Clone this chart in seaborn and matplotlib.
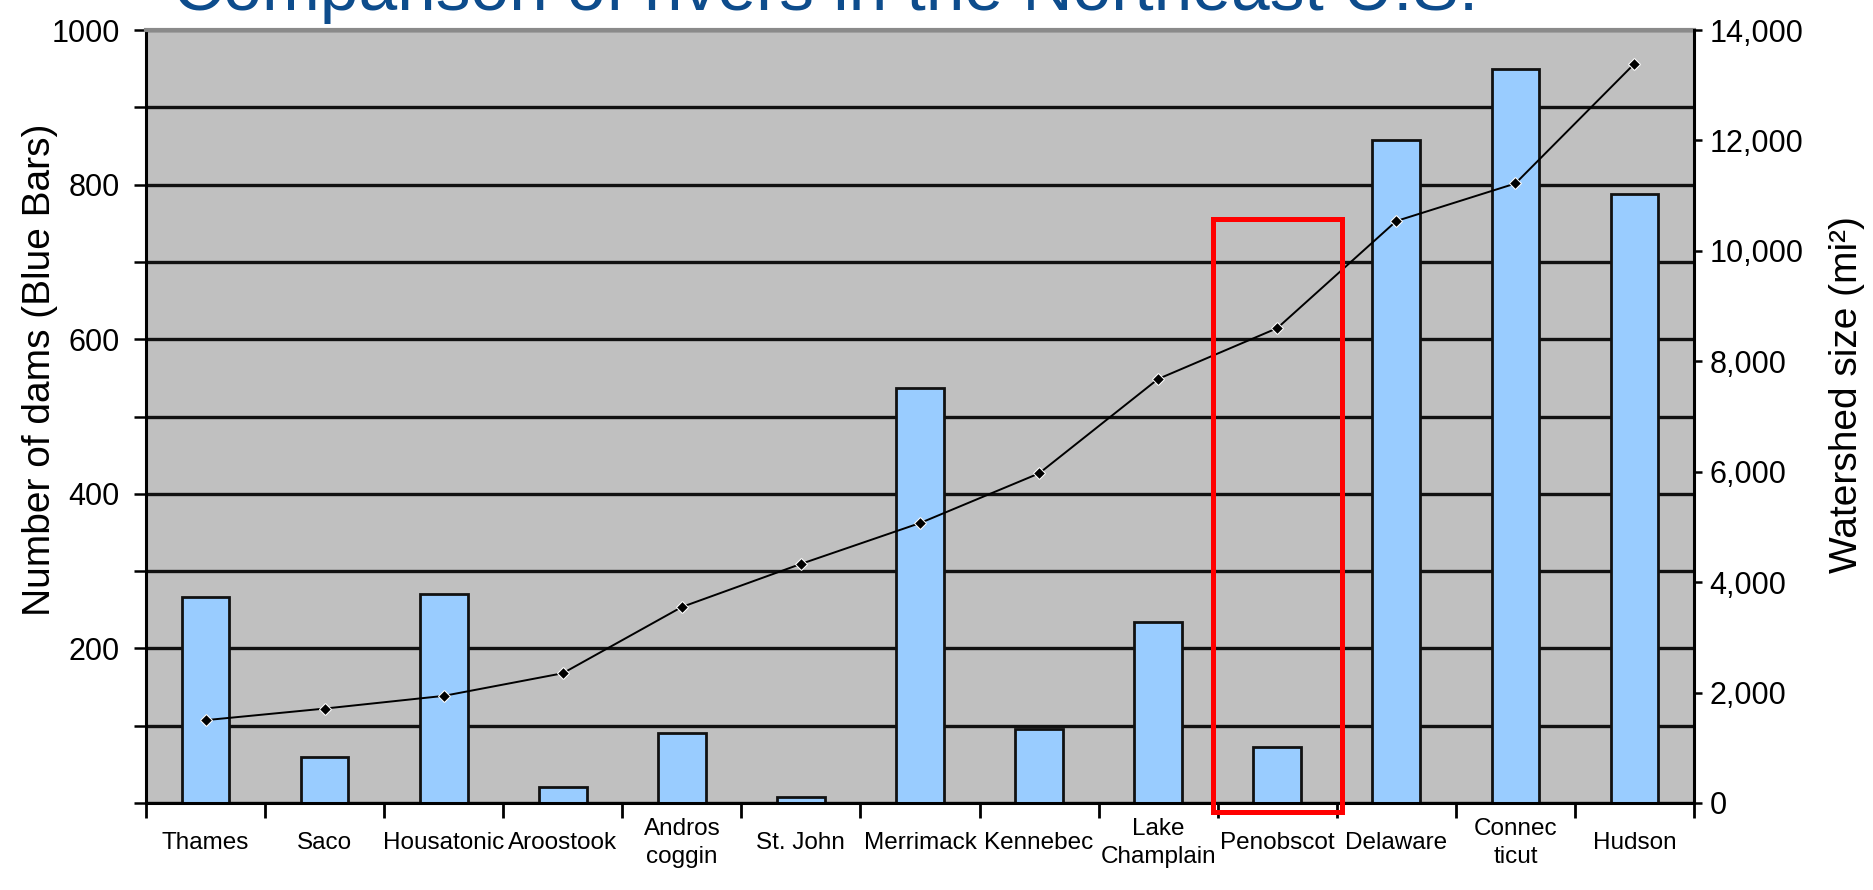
import matplotlib
matplotlib.use("Agg")
import matplotlib.pyplot as plt
import matplotlib.patches as mpatches
from matplotlib import font_manager
from matplotlib.ticker import FixedLocator, FuncFormatter
import numpy as np
import seaborn as sns

# River data
rivers = ["Thames", "Saco", "Housatonic", "Aroostook", "Andros\ncoggin", "St. John",
          "Merrimack", "Kennebec", "Lake\nChamplain", "Penobscot", "Delaware",
          "Connec\nticut", "Hudson"]
dams = [266, 59, 271, 21, 91, 8, 537, 96, 234, 73, 858, 950, 788]
watershed = [1500, 1710, 1940, 2350, 3550, 4330, 5070, 5970, 7680, 8600, 10540, 11220, 13390]

dam_ticks = list(range(0, 1001, 100))
area_ticks = list(range(0, 14001, 2000))

plt.rcParams["font.family"] = ["Liberation Sans", "DejaVu Sans"]

# condensed face for the axis titles when available
try:
    font_manager.findfont("Liberation Sans Narrow", fallback_to_default=False)
    label_family = ["Liberation Sans Narrow", "Liberation Sans"]
    label_size = 34
except Exception:
    label_family = ["Liberation Sans", "DejaVu Sans"]
    label_size = 28

W, H = 1873, 890
fig = plt.figure(figsize=(W / 100, H / 100), dpi=100)
ax = fig.add_axes([146 / W, 87 / H, 1548 / W, 773 / H])
ax.set_facecolor("#C0C0C0")

sns.barplot(x=rivers, y=dams, ax=ax, color="#99CCFF", saturation=1,
            edgecolor="#111111", linewidth=2.0, width=0.4, zorder=2)

ax.set_xlim(-0.5, len(rivers) - 0.5)
ax.set_ylim(0, 1000)
ax.set_axisbelow(True)

# horizontal gridlines every 100 dams
ax.yaxis.set_major_locator(FixedLocator(dam_ticks))
ax.yaxis.set_major_formatter(FuncFormatter(lambda v, p: f"{int(v)}" if v > 0 and int(v) % 200 == 0 else ""))
ax.grid(axis="y", color="#111111", linewidth=2.4)
ax.grid(axis="x", visible=False)
ax.tick_params(axis="y", which="major", direction="out", length=9, width=1.8,
               pad=10, labelsize=22, colors="black")

# category ticks between bars
ax.set_xticks(np.arange(len(rivers)))
ax.set_xticklabels(rivers)
ax.set_xticks(np.arange(-0.5, len(rivers), 1), minor=True)
ax.tick_params(axis="x", which="major", length=0, pad=29, labelsize=17.5)
ax.tick_params(axis="x", which="minor", direction="out", length=11, width=2.0)
for lab in ax.get_xticklabels():
    lab.set_verticalalignment("center")
    lab.set_linespacing(1.35)

for side in ("left", "bottom"):
    ax.spines[side].set_color("black")
    ax.spines[side].set_linewidth(2.2)
ax.spines["top"].set_color("#8A8A8A")
ax.spines["top"].set_linewidth(3.0)
ax.spines["right"].set_visible(False)

ax.set_xlabel("")
ax.set_ylabel("Number of dams (Blue Bars)", family=label_family, fontsize=label_size)
ax.yaxis.set_label_coords(-0.0686, 0.56)
ax.yaxis.label.set_verticalalignment("center")

# watershed size on the secondary axis
ax2 = ax.twinx()
sns.lineplot(x=rivers, y=watershed, ax=ax2, color="black", marker="D",
             markersize=6, linewidth=1.4, sort=False, zorder=3)
ax2.set_ylim(0, 14000)
ax2.set_yticks(area_ticks)
ax2.yaxis.set_major_formatter(FuncFormatter(lambda v, p: f"{int(v):,}"))
ax2.tick_params(axis="y", direction="out", length=6, width=1.8, pad=5,
                labelsize=22, colors="black")
ax2.spines["right"].set_color("black")
ax2.spines["right"].set_linewidth(2.2)
for side in ("left", "top", "bottom"):
    ax2.spines[side].set_visible(False)
ax2.set_xlabel("")
ax2.set_ylabel("Watershed size (mi²)", family=label_family, fontsize=label_size)
ax2.yaxis.set_label_coords(1.099, 0.528)
ax2.yaxis.label.set_verticalalignment("center")

# highlight box around Penobscot
pen = rivers.index("Penobscot")
ax2.add_patch(mpatches.Rectangle((pen - 0.54, -12), 1.08, 767, fill=False,
                                 edgecolor="#FF0000", linewidth=3.6,
                                 transform=ax.transData, clip_on=False, zorder=5))

fig.text(173 / W, 1 - 10 / H, "Comparison of rivers in the Northeast U.S.",
         ha="left", va="baseline", fontsize=50, color="#0D4C8C")

fig.savefig("out.png", dpi=100)
